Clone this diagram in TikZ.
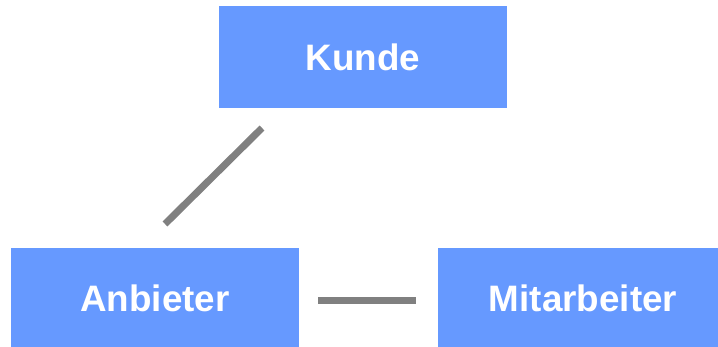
\documentclass[tikz,border=0pt]{standalone}
\usepackage{fontspec}
\setmainfont{Liberation Sans}
\definecolor{boxblue}{HTML}{6699FF}
\definecolor{linegray}{HTML}{808080}
\begin{document}
\begin{tikzpicture}[x=1pt,y=-1pt,
  entity/.style={fill=boxblue,draw=none,inner sep=0pt,text=white,font=\fontsize{36.8}{40}\selectfont\bfseries},
  link/.style={draw=linegray,line width=7pt}]
\useasboundingbox (0,0) rectangle (718,347);
\node[entity,minimum width=288pt,minimum height=102pt] (kunde) at (363,57) {Kunde};
\node[entity,minimum width=288pt,minimum height=100pt,text depth=0pt,yshift=-1pt] (anbieter) at (155,297) {Anbieter};
\node[entity,minimum width=280pt,minimum height=100pt,text depth=0pt,yshift=-1pt] (mitarbeiter) at (578,297) {\hspace*{10pt}Mitarbeiter};
\coordinate (d1) at (262,128);
\coordinate (d2) at (165,224);
\coordinate (h1) at (318,301);
\coordinate (h2) at (416,301);
\draw[link] (d1) -- (d2);
\draw[link] (h1) -- (h2);
\end{tikzpicture}
\end{document}
